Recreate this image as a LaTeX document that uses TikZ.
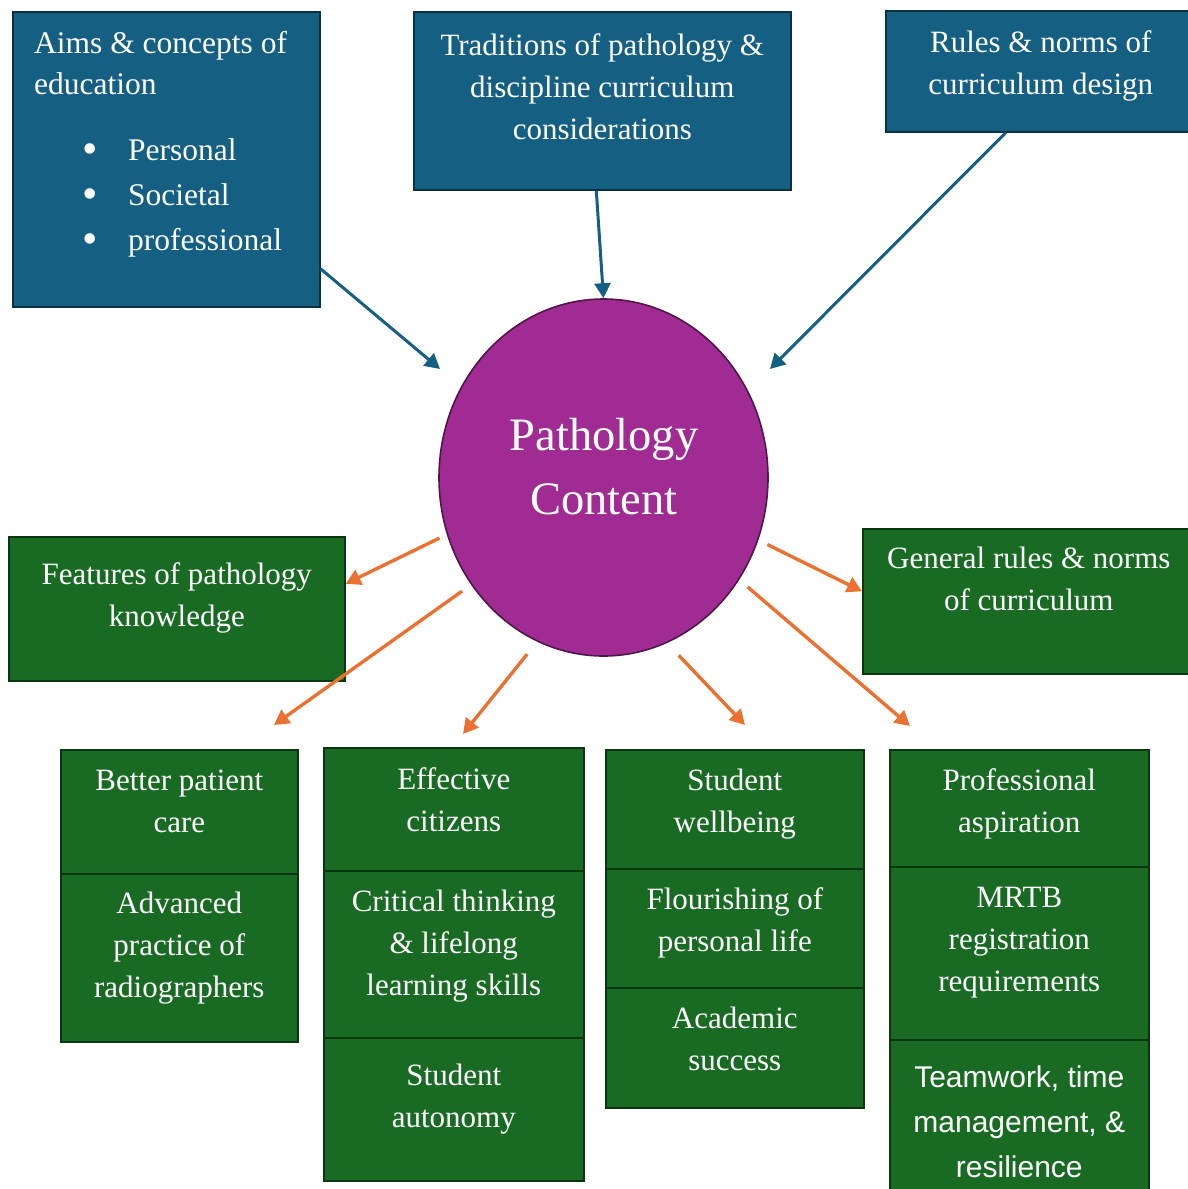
\documentclass[tikz,border=0pt]{standalone}
\usepackage{fontspec}
\setmainfont{Liberation Serif}
\newfontfamily\sansfont{Liberation Sans}
\usetikzlibrary{shapes.geometric,arrows.meta,positioning}

\definecolor{bluefill}{HTML}{156082}
\definecolor{blueline}{HTML}{0A3041}
\definecolor{greenfill}{HTML}{196B24}
\definecolor{greenline}{HTML}{0C3512}
\definecolor{purplefill}{HTML}{A02B93}
\definecolor{purpleline}{HTML}{501549}
\definecolor{orangeline}{HTML}{E97132}

\newcommand{\bigbullet}{\hspace*{48pt}\makebox[46pt][l]{\raisebox{-3pt}{\fontsize{44}{44}\selectfont\textbullet}}}

\tikzset{
  bluebox/.style={draw=blueline, fill=bluefill, line width=1.6pt, inner sep=0pt, anchor=north west},
  greenbox/.style={draw=greenline, fill=greenfill, line width=1.6pt, inner sep=0pt, anchor=north west},
  boxtext/.style={text=white, inner sep=0pt, align=center, anchor=north, font=\fontsize{31}{42}\selectfont},
  bluearrow/.style={draw=bluefill, line width=3pt, -{Triangle[length=15pt,width=16pt]}},
  orangearrow/.style={draw=orangeline, line width=3.4pt, -{Triangle[length=15pt,width=16pt]}},
}

\begin{document}
\begin{tikzpicture}[x=1pt,y=-1pt]

\useasboundingbox (0,0) rectangle (1187,1189);

% Arrow tips that end in free space
\coordinate (aimstip) at (440,369);
\coordinate (rulestip) at (770,369);
\coordinate (c1tip) at (274,725);
\coordinate (c2tip) at (463,734);
\coordinate (c3tip) at (745,725);
\coordinate (c4tip) at (910,726);

% Top boxes (inputs)
\node[bluebox, minimum width=307pt, minimum height=295pt] (aims) at (12,11) {};
\node[bluebox, minimum width=377pt, minimum height=178pt] (trad) at (413,11) {};
\node[bluebox, minimum width=310pt, minimum height=121pt] (rules) at (885,10) {};

\node[text=white, inner sep=0pt, align=left, anchor=north west, font=\fontsize{31.5}{41}\selectfont] (aimstxt) at (34,24.3)
  {\strut Aims \& concepts of\\
   education\\[25pt]
   \bigbullet Personal\\[4pt]
   \bigbullet Societal\\[4pt]
   \bigbullet professional};
\node[boxtext] (tradtxt) at ([yshift=-14.6pt]trad.north)
  {\strut Traditions of pathology \&\\discipline curriculum\\considerations};
\node[boxtext] (rulestxt) at ([yshift=-12.6pt]rules.north)
  {\strut Rules \& norms of\\curriculum design};

% Central ellipse
\node[ellipse, draw=purpleline, fill=purplefill, line width=1.6pt, inner sep=0pt,
      minimum width=329pt, minimum height=357pt] (pc) at (603.5,477.5) {};
\node[text=white, inner sep=0pt, align=center, anchor=north, font=\fontsize{46.5}{64}\selectfont] (pctxt) at (604,405.2)
  {\strut Pathology\\Content};

% Side boxes
\node[greenbox, minimum width=336pt, minimum height=144pt] (feat) at (8,536) {};
\node[greenbox, minimum width=332pt, minimum height=145pt] (gen) at (862,528) {};
\node[boxtext] (feattxt) at ([yshift=-18.6pt]feat.north) {\strut Features of pathology\\knowledge};
\node[boxtext] (gentxt) at ([yshift=-10.6pt]gen.north) {\strut General rules \& norms\\of curriculum};

% Bottom columns
\node[greenbox, minimum width=237pt, minimum height=124pt] (c1a) at (60,749) {};
\node[greenbox, minimum width=237pt, minimum height=168pt] (c1b) at (60,873) {};

\node[greenbox, minimum width=260pt, minimum height=123pt] (c2a) at (323,747) {};
\node[greenbox, minimum width=260pt, minimum height=167pt] (c2b) at (323,870) {};
\node[greenbox, minimum width=260pt, minimum height=143pt] (c2c) at (323,1037) {};

\node[greenbox, minimum width=258pt, minimum height=119pt] (c3a) at (605,749) {};
\node[greenbox, minimum width=258pt, minimum height=119pt] (c3b) at (605,868) {};
\node[greenbox, minimum width=258pt, minimum height=120pt] (c3c) at (605,987) {};

\node[greenbox, minimum width=259pt, minimum height=117pt] (c4a) at (889,749) {};
\node[greenbox, minimum width=259pt, minimum height=173pt] (c4b) at (889,866) {};
\node[greenbox, minimum width=259pt, minimum height=161pt] (c4c) at (889,1039) {};

\node[boxtext] (c1atxt) at ([yshift=-11.6pt]c1a.north) {\strut Better patient\\care};
\node[boxtext] (c1btxt) at ([yshift=-10.6pt]c1b.north) {\strut Advanced\\practice of\\radiographers};
\node[boxtext] (c2atxt) at ([yshift=-12.6pt]c2a.north) {\strut Effective\\citizens};
\node[boxtext] (c2btxt) at ([yshift=-11.6pt]c2b.north) {\strut Critical thinking\\\& lifelong\\learning skills};
\node[boxtext] (c2ctxt) at ([yshift=-18.6pt]c2c.north) {\strut Student\\autonomy};
\node[boxtext] (c3atxt) at ([yshift=-11.6pt]c3a.north) {\strut Student\\wellbeing};
\node[boxtext] (c3btxt) at ([yshift=-11.6pt]c3b.north) {\strut Flourishing of\\personal life};
\node[boxtext] (c3ctxt) at ([yshift=-11.6pt]c3c.north) {\strut Academic\\success};
\node[boxtext] (c4atxt) at ([yshift=-11.6pt]c4a.north) {\strut Professional\\aspiration};
\node[boxtext] (c4btxt) at ([yshift=-11.6pt]c4b.north) {\strut MRTB\\registration\\requirements};
\node[boxtext, font=\sansfont\fontsize{30}{45}\selectfont] (c4ctxt) at ([yshift=-16.5pt]c4c.north)
  {\strut Teamwork, time\\management, \&\\resilience};

% Arrows into the ellipse
\draw[bluearrow] ([yshift=-109.5pt]aims.east) -- (aimstip);
\draw[bluearrow] ([xshift=-6pt]trad.south) -- (pc.north);
\draw[bluearrow] ([xshift=-35pt]rules.south) -- (rulestip);

% Arrows out of the ellipse
\draw[orangearrow, shorten <=8pt] (pc.200.5) -- ([yshift=25pt]feat.east);
\draw[orangearrow, shorten <=11pt] (pc.219.2) -- (c1tip);
\draw[orangearrow, shorten <=16pt] (pc.248.4) -- (c2tip);
\draw[orangearrow, shorten <=17pt] (pc.291.8) -- (c3tip);
\draw[orangearrow, shorten <=11pt] (pc.323.1) -- (c4tip);
\draw[orangearrow, shorten <=10pt] (pc.338.4) -- ([yshift=10pt]gen.west);

\end{tikzpicture}
\end{document}
